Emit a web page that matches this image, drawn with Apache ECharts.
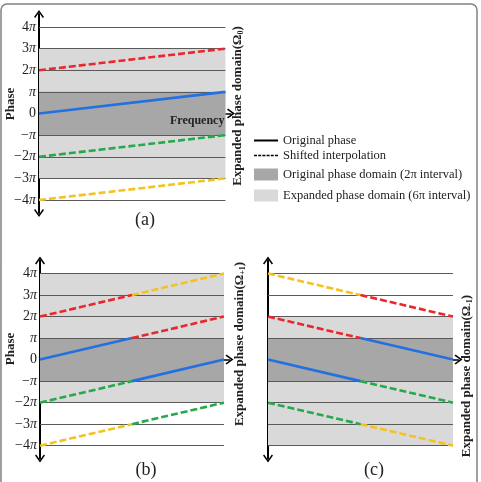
<!DOCTYPE html>
<html>
<head>
<meta charset="utf-8">
<script src="https://cdn.jsdelivr.net/npm/echarts@6/dist/echarts.min.js"></script>
<style>
  html, body { margin: 0; padding: 0; background: #fff; }
  #main { width: 481px; height: 482px; }
</style>
</head>
<body>
<div id="main"></div>
<script>
var serif = '"Liberation Serif", "Times New Roman", serif';

// phase levels, in units of pi
var tickValues = [-4, -3, -2, -1, 0, 1, 2, 3, 4];
var gridLevels = [-4, -3, -2, -1, 1, 2, 3, 4];

// shaded domains [from, to] in units of pi
var darkBand = [-1, 1];
var lightBandA = [-3, 3];
var lightBandB = [-2, 4];
var lightBandC = [-4, 2];

// panel (a): [frequency, phase] end points
var aRed = [[0, 2], [1, 3]];
var aBlue = [[0, 0], [1, 1]];
var aGreen = [[0, -2], [1, -1]];
var aYellow = [[0, -4], [1, -3]];

// panel (b): two segments per colour
var bRed = [[[0, 2], [0.5, 3]], [[0.5, 1], [1, 2]]];
var bBlue = [[[0, 0], [0.5, 1]], [[0.5, -1], [1, 0]]];
var bGreen = [[[0, -2], [0.5, -1]], [[0.5, -3], [1, -2]]];
var bYellow = [[[0, -4], [0.5, -3]], [[0.5, 3], [1, 4]]];

// panel (c)
var cYellow = [[[0, 4], [0.5, 3]], [[0.5, -3], [1, -4]]];
var cRed = [[[0, 2], [0.5, 1]], [[0.5, 3], [1, 2]]];
var cBlue = [[[0, 0], [0.5, -1]], [[0.5, 1], [1, 0]]];
var cGreen = [[[0, -2], [0.5, -3]], [[0.5, -1], [1, -2]]];

var legendLines = ['Original phase', 'Shifted interpolation'];
var legendAreas = ['Original phase domain (2\u03c0 interval)', 'Expanded phase domain (6\u03c0 interval)'];

var RED = '#e8282c', BLUE = '#2370e0', GREEN = '#25a94c', YELLOW = '#f4c321';
var DARK = '#a7a7a7', LIGHT = '#d9d9d9';
var chevron = 'path://M5,0 L10,7 L8.8,8 L5,2.6 L1.2,8 L0,7 Z';
// legend icons: the first two moves only set the 24x12 box
var solidIcon = 'path://M0,0 M24,12 M0,5 h24 v2 h-24 z';
var dashedIcon = 'path://M0,0 M24,12 M0,5.3 h3 v1.4 h-3 z M4.2,5.3 h3 v1.4 h-3 z M8.4,5.3 h3 v1.4 h-3 z ' +
    'M12.6,5.3 h3 v1.4 h-3 z M16.8,5.3 h3 v1.4 h-3 z M21,5.3 h3 v1.4 h-3 z';

var echart = echarts.init(document.getElementById('main'));

var labelFormatter = function (v) {
    if (v === 0) return '{n|0}';
    var s = v < 0 ? '\u2212' : '';
    var a = Math.abs(v);
    return '{n|' + s + (a === 1 ? '' : a) + '}{p|\u03c0}';
};

var makeX = function (i) {
    return {
        gridIndex: i, type: 'value', min: 0, max: 1.03,
        axisLine: { onZero: true, symbol: ['none', chevron], symbolSize: [10, 8],
            lineStyle: { color: '#000', width: 1.5 } },
        axisTick: { show: false }, axisLabel: { show: false }, splitLine: { show: false }
    };
};

var makeY = function (i, showLabels) {
    return {
        gridIndex: i, type: 'value', min: -4.6, max: 4.6,
        axisLine: { symbol: [chevron, chevron], symbolSize: [10, 8],
            lineStyle: { color: '#000', width: 2 } },
        axisTick: { show: false },
        splitLine: { show: false },
        axisLabel: {
            show: showLabels, customValues: tickValues, margin: 3,
            formatter: labelFormatter,
            rich: {
                n: { fontFamily: serif, fontSize: 14, color: '#222' },
                p: { fontFamily: serif, fontSize: 14, fontStyle: 'italic', color: '#222' }
            }
        }
    };
};

var series = [];

var addBackground = function (i, light) {
    series.push({
        type: 'line', xAxisIndex: i, yAxisIndex: i, data: [], silent: true, z: 1,
        markArea: {
            silent: true,
            data: [
                [{ coord: [0, light[0]], itemStyle: { color: LIGHT } }, { coord: [1, light[1]] }],
                [{ coord: [0, darkBand[0]], itemStyle: { color: DARK } }, { coord: [1, darkBand[1]] }]
            ]
        },
        markLine: {
            silent: true, symbol: 'none', label: { show: false },
            lineStyle: { color: '#5a5a5a', width: 1, type: 'solid' },
            data: gridLevels.map(function (v) {
                return [{ coord: [0, v] }, { coord: [1, v] }];
            })
        }
    });
};

var addLine = function (i, pts, color, dashed) {
    series.push({
        type: 'line', xAxisIndex: i, yAxisIndex: i, data: pts, symbol: 'none', z: 5,
        silent: true,
        lineStyle: { color: color, width: 2.6, type: dashed ? [7, 3] : 'solid' }
    });
};

var addPair = function (i, segs, color, dashed) {
    addLine(i, segs[0], color, dashed);
    addLine(i, segs[1], color, dashed);
};

addBackground(0, lightBandA);
addBackground(1, lightBandB);
addBackground(2, lightBandC);

addLine(0, aRed, RED, true);
addLine(0, aBlue, BLUE, false);
addLine(0, aGreen, GREEN, true);
addLine(0, aYellow, YELLOW, true);

addPair(1, bRed, RED, true);
addPair(1, bBlue, BLUE, false);
addPair(1, bGreen, GREEN, true);
addPair(1, bYellow, YELLOW, true);

addPair(2, cYellow, YELLOW, true);
addPair(2, cRed, RED, true);
addPair(2, cBlue, BLUE, false);
addPair(2, cGreen, GREEN, true);

// legend-only series
series.push({ name: legendLines[0], type: 'line', data: [], symbol: 'none', color: '#000' });
series.push({ name: legendLines[1], type: 'line', data: [], symbol: 'none', color: '#000' });
series.push({ name: legendAreas[0], type: 'bar', data: [], itemStyle: { color: DARK } });
series.push({ name: legendAreas[1], type: 'bar', data: [], itemStyle: { color: LIGHT } });

var legendText = { fontFamily: serif, fontSize: 12.5, color: '#222' };

option = {
    backgroundColor: '#fff',
    animation: false,
    grid: [
        { left: 39, top: 14, width: 192, height: 199 },
        { left: 40, top: 260.6, width: 189.5, height: 198 },
        { left: 268, top: 260.6, width: 190.5, height: 198 }
    ],
    xAxis: [makeX(0), makeX(1), makeX(2)],
    yAxis: [makeY(0, true), makeY(1, true), makeY(2, false)],
    legend: [{
        data: [{ name: legendLines[0], icon: solidIcon }, { name: legendLines[1], icon: dashedIcon }],
        orient: 'vertical', left: 249, top: 129,
        itemWidth: 24, itemHeight: 12, itemGap: 2, selectedMode: false,
        textStyle: legendText
    }, {
        data: legendAreas.map(function (n) { return { name: n, icon: 'rect' }; }),
        orient: 'vertical', left: 249, top: 163,
        itemWidth: 24, itemHeight: 12, itemGap: 8, selectedMode: false,
        textStyle: legendText
    }],
    graphic: [
        { type: 'rect', z: 100, shape: { x: 1, y: 4, width: 476, height: 492, r: 6 },
          style: { fill: 'none', stroke: '#808080', lineWidth: 1.5 }, silent: true },
        { type: 'text', z: 100, x: 170, y: 121, style: { text: 'Frequency', font: 'bold 12px ' + serif,
          fill: '#222', verticalAlign: 'middle' } },
        { type: 'text', z: 100, x: 11, y: 104, rotation: Math.PI / 2, style: { text: 'Phase',
          font: 'bold 13px ' + serif, fill: '#222', align: 'center', verticalAlign: 'middle' } },
        { type: 'text', z: 100, x: 11, y: 349, rotation: Math.PI / 2, style: { text: 'Phase',
          font: 'bold 13px ' + serif, fill: '#222', align: 'center', verticalAlign: 'middle' } },
        { type: 'text', z: 100, x: 238, y: 106, rotation: Math.PI / 2, style: {
          text: '{t|Expanded phase domain(\u03a9}{s|0}{t|)}', align: 'center', verticalAlign: 'middle',
          rich: { t: { font: 'bold 13px ' + serif, fill: '#222' },
                  s: { font: 'bold 8px ' + serif, fill: '#222', verticalAlign: 'bottom' } } } },
        { type: 'text', z: 100, x: 240, y: 344, rotation: Math.PI / 2, style: {
          text: '{t|Expanded phase domain(\u03a9}{s|+1}{t|)}', align: 'center', verticalAlign: 'middle',
          rich: { t: { font: 'bold 13px ' + serif, fill: '#222' },
                  s: { font: 'bold 8px ' + serif, fill: '#222', verticalAlign: 'bottom' } } } },
        { type: 'text', z: 100, x: 467, y: 376, rotation: Math.PI / 2, style: {
          text: '{t|Expanded phase domain(\u03a9}{s|-1}{t|)}', align: 'center', verticalAlign: 'middle',
          rich: { t: { font: 'bold 13px ' + serif, fill: '#222' },
                  s: { font: 'bold 8px ' + serif, fill: '#222', verticalAlign: 'bottom' } } } },
        { type: 'text', z: 100, x: 145, y: 220, style: { text: '(a)', font: '18px ' + serif, fill: '#222',
          align: 'center', verticalAlign: 'middle' } },
        { type: 'text', z: 100, x: 146, y: 470, style: { text: '(b)', font: '18px ' + serif, fill: '#222',
          align: 'center', verticalAlign: 'middle' } },
        { type: 'text', z: 100, x: 374, y: 470, style: { text: '(c)', font: '18px ' + serif, fill: '#222',
          align: 'center', verticalAlign: 'middle' } }
    ],
    series: series
};

echart.setOption(option);
</script>
</body>
</html>
